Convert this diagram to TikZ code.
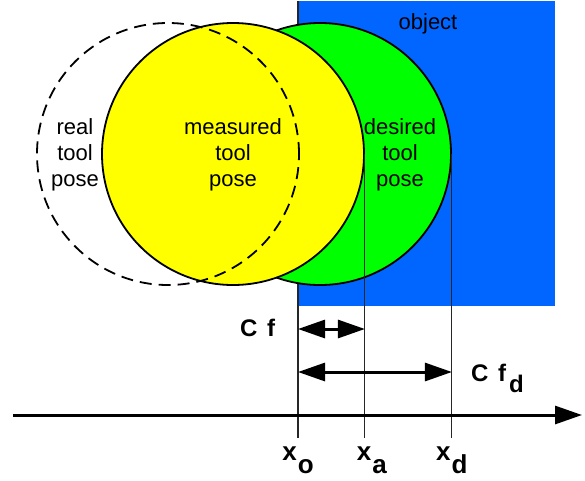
\documentclass[tikz,border=0pt]{standalone}
\usepackage{fontspec}
\setmainfont{Liberation Sans}
\usetikzlibrary{arrows.meta}

\begin{document}
\begin{tikzpicture}[x=1pt, y=-1pt,
    tool/.style={circle, draw=black, line width=1.8pt, minimum size=262pt, inner sep=0pt},
    posetext/.style={align=center, font=\fontsize{22}{26}\selectfont},
    boldlabel/.style={inner sep=0pt, anchor=base west, font=\fontsize{24}{28}\selectfont\bfseries},
    axislabel/.style={anchor=base, font=\fontsize{26}{30}\selectfont\bfseries},
    guide/.style={black!85, line width=1.1pt},
    dimarrow/.style={line width=3pt, {Triangle[length=27pt,width=18pt]}-{Triangle[length=27pt,width=18pt]}}]

    \definecolor{objectBlue}{HTML}{0066FF}
    \definecolor{desiredGreen}{HTML}{00FF00}
    \definecolor{measuredYellow}{HTML}{FFFF00}

    \def\sub#1#2{\raisebox{-#1}{#2}}

    \useasboundingbox (0,0) rectangle (585,480);

    % Object
    \node[fill=objectBlue, anchor=north west, minimum width=257pt, minimum height=305pt, inner sep=0pt] (object) at (298,1) {};
    \node[font=\fontsize{22}{26}\selectfont] (objectlabel) at (428,24) {object};

    % Edge of the object
    \coordinate (xo) at (298,438);
    \draw[guide] (object.north west) -- (xo);

    % Tool poses
    \node[tool, fill=desiredGreen] (desired) at (320,154) {};
    \node[tool, fill=measuredYellow] (measured) at (233,154) {};
    \node[tool, dashed, dash pattern=on 12pt off 7pt] (real) at (168,154) {};

    \node[posetext] (reallabel) at (75,155) {real\\tool\\pose};
    \node[posetext] (measuredlabel) at (233,155) {measured\\tool\\pose};
    \node[posetext] (desiredlabel) at (400,155) {desired\\tool\\pose};

    % Tool positions
    \coordinate (xa) at (measured.east |- xo);
    \coordinate (xd) at (desired.east |- xo);
    \draw[guide] (measured.east) -- (xa);
    \draw[guide] (desired.east) -- (xd);

    % Forces
    \coordinate (cf) at (0,329);
    \coordinate (cfd) at (0,372);
    \draw[dimarrow] (xo |- cf) -- (xa |- cf);
    \draw[dimarrow] (xo |- cfd) -- (xd |- cfd);
    \node[boldlabel] (cflabel) at (240,336) {C\kern3pt\ f};
    \node[boldlabel] (cfdlabel) at (471,381) {C\kern3pt\ f\kern3pt\raisebox{-11pt}{d}};

    % Axis
    \coordinate (axisstart) at (13,415);
    \coordinate (axisend) at (582,415);
    \draw[line width=3pt, -{Triangle[length=27pt,width=18pt]}] (axisstart) -- (axisend);

    % Axis labels
    \node[axislabel] (xolabel) at ([yshift=-22pt]xo) {x\kern1pt\sub{13pt}{o}};
    \node[axislabel] (xalabel) at ([xshift=7pt,yshift=-22pt]xa) {x\kern1pt\sub{13pt}{a}};
    \node[axislabel] (xdlabel) at ([yshift=-22pt]xd) {x\kern1pt\sub{13pt}{d}};

\end{tikzpicture}
\end{document}
